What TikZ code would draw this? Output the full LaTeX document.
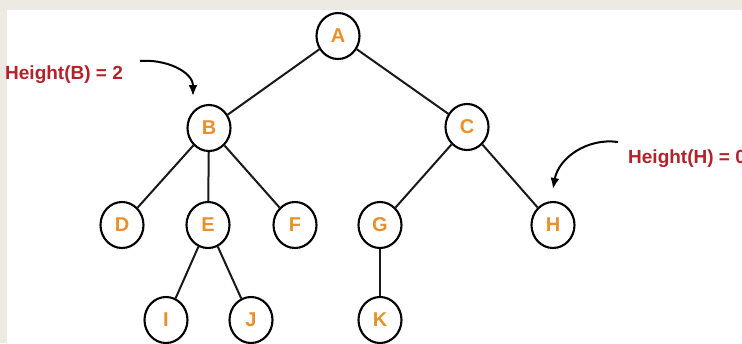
\documentclass[tikz,border=0pt]{standalone}
\usepackage{fontspec}
\setmainfont{Liberation Sans}
\usepackage{xcolor}
\usepackage{tikz}
\usetikzlibrary{arrows.meta, shapes.geometric}
\definecolor{pagegray}{HTML}{ECEAE2}
\definecolor{keyorange}{HTML}{E8912C}
\definecolor{heightred}{HTML}{B3222B}

\begin{document}
\begin{tikzpicture}[
   x=1pt, y=-1pt, >=Latex,
   treenode/.style = {ellipse, draw=black, line width=2.1pt, fill=white,
                      minimum width=43pt, minimum height=46pt, inner sep=0pt,
                      font=\fontsize{20}{22}\selectfont\bfseries, text=keyorange},
   heightlabel/.style = {anchor=west, inner sep=0pt, text=heightred,
                         font=\fontsize{19}{22}\selectfont\bfseries},
   branch/.style = {line width=2pt, black!90},
   pointer/.style = {-{Latex[length=11pt, width=9pt]}, line width=2pt, black}]
  \fill[pagegray] (0,0) rectangle (742,343);
  \fill[white] (7,10) rectangle (742,343);
  \useasboundingbox (0,0) rectangle (742,343);
  \clip (0,0) rectangle (742,343);

  % tree
  \node[treenode] (A) at (338,36)  {A};
  \node[treenode] (B) at (209,128) {B};
  \node[treenode] (C) at (467,127) {C};
  \node[treenode] (D) at (122,225) {D};
  \node[treenode] (E) at (208,225) {E};
  \node[treenode] (F) at (295,225) {F};
  \node[treenode] (G) at (380,225) {G};
  \node[treenode] (H) at (553,225) {H};
  \node[treenode] (I) at (166,320) {I};
  \node[treenode] (J) at (251,320) {J};
  \node[treenode] (K) at (380,320) {K};

  \foreach \p/\c in {A/B, A/C, B/D, B/E, B/F, C/G, C/H, E/I, E/J, G/K}
    \draw[branch] (\p) -- (\c);

  % heights
  \node[heightlabel] (hB) at (5,75)    {Height(B) = 2};
  \node[heightlabel] (hH) at (628,159) {Height(H) = 0};
  \coordinate (hBtail) at (140,61);
  \coordinate (hBtip)  at (193,96);
  \coordinate (hHtail) at (618,142);
  \coordinate (hHtip)  at (553,189);
  \draw[pointer] (hBtail) to[out=5, in=90] (hBtip);
  \draw[pointer] (hHtail) to[out=172, in=80] (hHtip);
\end{tikzpicture}
\end{document}
